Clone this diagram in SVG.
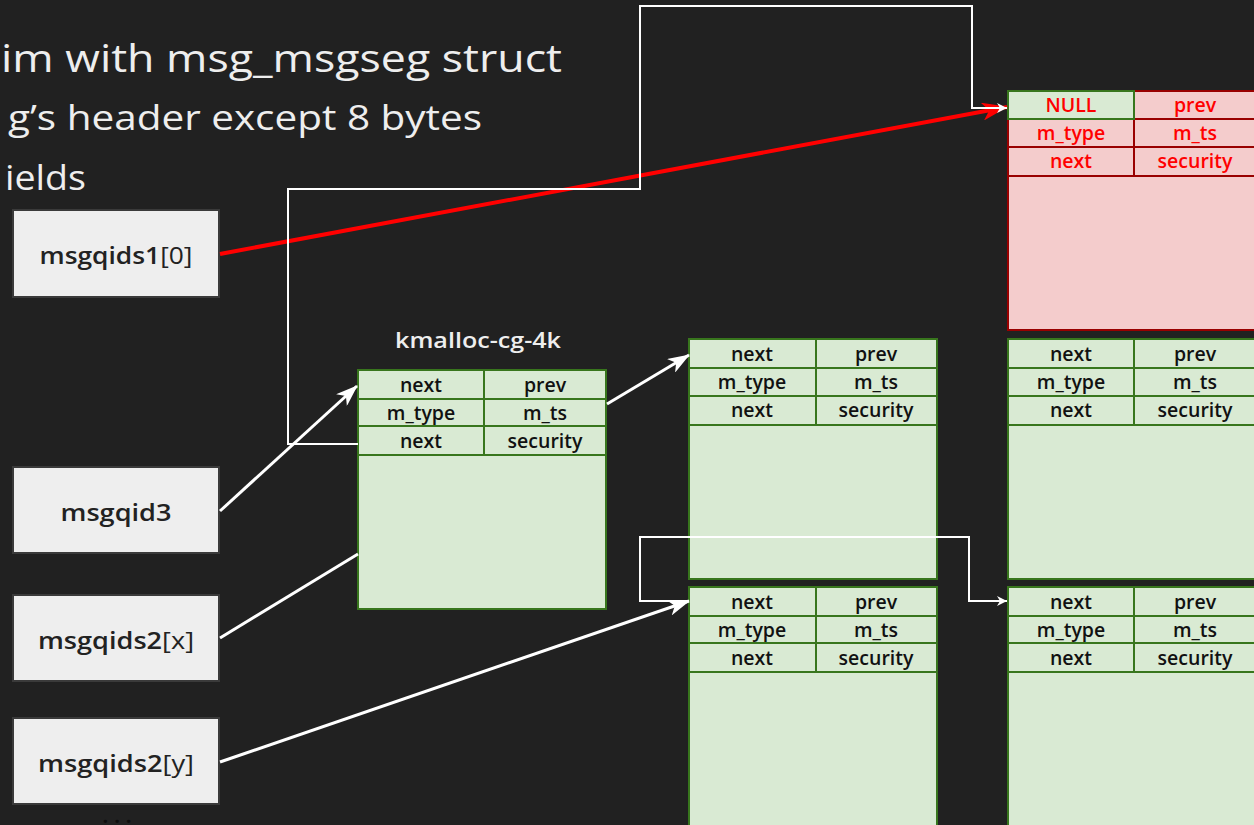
<svg xmlns="http://www.w3.org/2000/svg" width="1254" height="825" viewBox="0 0 1254 825">
<style>
.title{font-family:"Open Sans",Lato,"Liberation Sans",sans-serif;fill:#eeeeee;font-weight:400}
.box{fill:#eeeeee;stroke:#3a3a3a;stroke-width:2}
.boxt{font-family:"Open Sans",Lato,"Liberation Sans",sans-serif;font-size:24px;font-weight:600;fill:#222222;text-anchor:middle}
.br{font-weight:400}
.blk{fill:#d9ead3;stroke:#38761d;stroke-width:2}
.gl{stroke:#38761d;stroke-width:2;fill:none}
.rblk{fill:#f4cccc;stroke:#990000;stroke-width:2}
.rl{stroke:#990000;stroke-width:2;fill:none}
.t{font-family:"Open Sans",Lato,"Liberation Sans",sans-serif;font-size:19.5px;font-weight:600;fill:#111111;text-anchor:middle}
.rt{fill:#ff0000}
.lbl{font-family:"Open Sans",Lato,"Liberation Sans",sans-serif;font-size:21px;font-weight:600;fill:#eeeeee;text-anchor:middle}
.thick{stroke:#ffffff;stroke-width:3;fill:none}
.thin{stroke:#ffffff;stroke-width:2;fill:none}
.red{stroke:#ff0000;stroke-width:4;fill:none}
</style>
<defs>
<marker id="aw" viewBox="0 0 22 16" refX="21" refY="8" markerWidth="22" markerHeight="16" markerUnits="userSpaceOnUse" orient="auto"><path d="M0,0 L22,8 L0,16 L6,8 z" fill="#ffffff"/></marker>
<marker id="ar" viewBox="0 0 26 18" refX="25" refY="9" markerWidth="26" markerHeight="18" markerUnits="userSpaceOnUse" orient="auto"><path d="M0,0 L26,9 L0,18 L7,9 z" fill="#ff0000"/></marker>
<marker id="as" viewBox="0 0 10 10" refX="10" refY="5" markerWidth="10" markerHeight="10" markerUnits="userSpaceOnUse" orient="auto"><path d="M0,0 L10,5 L0,10 L3,5 z" fill="#ffffff"/></marker>
</defs>
<rect width="1254" height="825" fill="#212121"/>

<g id="title">
<text class="title" x="1" y="72" font-size="39" textLength="561" lengthAdjust="spacingAndGlyphs">im with msg_msgseg struct</text>
<text class="title" x="8" y="130" font-size="35" textLength="474" lengthAdjust="spacingAndGlyphs">g’s header except 8 bytes</text>
<text class="title" x="5" y="190" font-size="35" textLength="81" lengthAdjust="spacingAndGlyphs">ields</text>
</g>

<g id="msgqids1_0">
<rect class="box" x="13" y="210" width="206" height="87"/>
<text class="boxt" x="116" y="264" textLength="153" lengthAdjust="spacingAndGlyphs">msgqids1<tspan class="br">[0]</tspan></text>
</g>
<g id="msgqid3">
<rect class="box" x="13" y="467" width="206" height="86"/>
<text class="boxt" x="116" y="521" textLength="111" lengthAdjust="spacingAndGlyphs">msgqid3</text>
</g>
<g id="msgqids2_x">
<rect class="box" x="13" y="595" width="206" height="86"/>
<text class="boxt" x="116" y="649" textLength="156" lengthAdjust="spacingAndGlyphs">msgqids2<tspan class="br">[x]</tspan></text>
</g>
<g id="msgqids2_y">
<rect class="box" x="13" y="718" width="206" height="86"/>
<text class="boxt" x="116" y="772" textLength="156" lengthAdjust="spacingAndGlyphs">msgqids2<tspan class="br">[y]</tspan></text>
</g>
<g id="ellipsis">
<text x="120" y="823" font-family="'Open Sans',Lato,sans-serif" font-size="20" font-weight="700" fill="#0d0d0d" text-anchor="middle" letter-spacing="6">...</text>
</g>

<g id="kmalloc">
<text class="lbl" x="478" y="348" textLength="166" lengthAdjust="spacingAndGlyphs">kmalloc-cg-4k</text>
<rect class="blk" x="358" y="370" width="248" height="239"/>
<path class="gl" d="M358,399 H606 M358,426 H606 M358,455 H606 M484,370 V455"/>
<text class="t" x="421" y="392">next</text><text class="t" x="545" y="392">prev</text>
<text class="t" x="421" y="420">m_type</text><text class="t" x="545" y="420">m_ts</text>
<text class="t" x="421" y="448">next</text><text class="t" x="545" y="448">security</text>
</g>

<g id="block_mid_top">
<rect class="blk" x="689" y="339" width="248" height="240"/>
<path class="gl" d="M689,368 H937 M689,396 H937 M689,425 H937 M816,339 V425"/>
<text class="t" x="752" y="361">next</text><text class="t" x="876" y="361">prev</text>
<text class="t" x="752" y="389">m_type</text><text class="t" x="876" y="389">m_ts</text>
<text class="t" x="752" y="417">next</text><text class="t" x="876" y="417">security</text>
</g>

<g id="block_mid_bottom">
<rect class="blk" x="689" y="587" width="248" height="250"/>
<path class="gl" d="M689,616 H937 M689,643 H937 M689,672 H937 M816,587 V672"/>
<text class="t" x="752" y="609">next</text><text class="t" x="876" y="609">prev</text>
<text class="t" x="752" y="637">m_type</text><text class="t" x="876" y="637">m_ts</text>
<text class="t" x="752" y="665">next</text><text class="t" x="876" y="665">security</text>
</g>

<g id="block_victim">
<rect class="rblk" x="1008" y="91" width="250" height="239"/>
<path class="rl" d="M1008,119 H1258 M1008,147 H1258 M1008,176 H1258 M1134,91 V176"/>
<rect class="blk" x="1008" y="91" width="126" height="28"/>
<text class="t rt" x="1071" y="112">NULL</text><text class="t rt" x="1195" y="112">prev</text>
<text class="t rt" x="1071" y="140">m_type</text><text class="t rt" x="1195" y="140">m_ts</text>
<text class="t rt" x="1071" y="168">next</text><text class="t rt" x="1195" y="168">security</text>
</g>

<g id="block_right_mid">
<rect class="blk" x="1008" y="339" width="250" height="240"/>
<path class="gl" d="M1008,368 H1258 M1008,396 H1258 M1008,425 H1258 M1134,339 V425"/>
<text class="t" x="1071" y="361">next</text><text class="t" x="1195" y="361">prev</text>
<text class="t" x="1071" y="389">m_type</text><text class="t" x="1195" y="389">m_ts</text>
<text class="t" x="1071" y="417">next</text><text class="t" x="1195" y="417">security</text>
</g>

<g id="block_right_bottom">
<rect class="blk" x="1008" y="587" width="250" height="250"/>
<path class="gl" d="M1008,616 H1258 M1008,643 H1258 M1008,672 H1258 M1134,587 V672"/>
<text class="t" x="1071" y="609">next</text><text class="t" x="1195" y="609">prev</text>
<text class="t" x="1071" y="637">m_type</text><text class="t" x="1195" y="637">m_ts</text>
<text class="t" x="1071" y="665">next</text><text class="t" x="1195" y="665">security</text>
</g>

<g id="connectors">
<line class="red" x1="220" y1="254" x2="1007" y2="107" marker-end="url(#ar)"/>
<line class="thick" x1="220" y1="511" x2="357" y2="386" marker-end="url(#aw)"/>
<line class="thick" x1="607" y1="404" x2="689" y2="355" marker-end="url(#aw)"/>
<line class="thick" x1="220" y1="638" x2="358" y2="554"/>
<line class="thick" x1="220" y1="762" x2="689" y2="601" marker-end="url(#aw)"/>
<path class="thin" d="M358,444 H288 V189 H640 V6 H972 V108 H1007" marker-end="url(#as)"/>
<path class="thin" d="M689,601 H640 V537 H969 V601 H1007" marker-end="url(#as)"/>
</g>
</svg>
